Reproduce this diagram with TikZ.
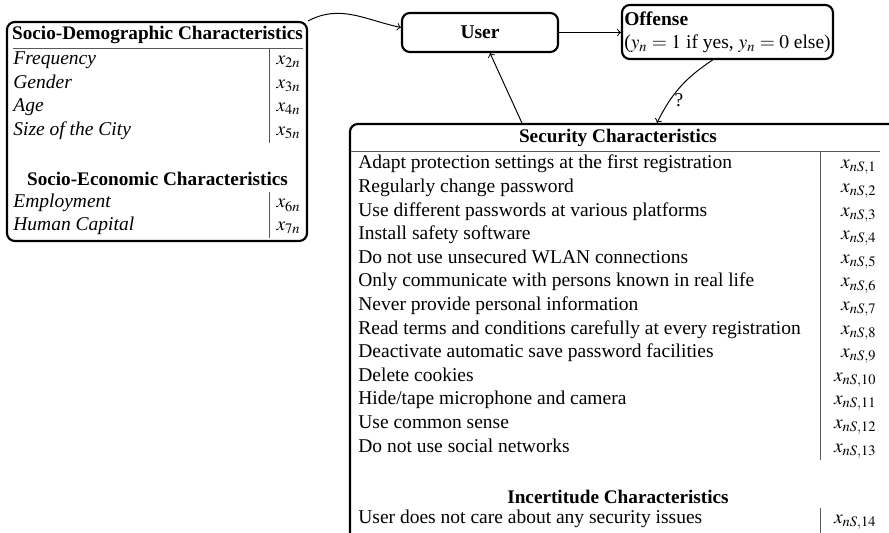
\documentclass[tikz,border=0pt]{standalone}
\usepackage{mathptmx}
\usepackage{fontspec}
\setmainfont{Liberation Serif}
\usetikzlibrary{calc,fit}
\tikzset{
  box/.style={draw, line width=1.1pt, rounded corners=4pt, inner sep=0pt},
  rowtxt/.style={anchor=west, inner sep=0pt, text height=1.55ex, text depth=.45ex},
  vartxt/.style={anchor=east, inner sep=0pt, text height=1.55ex, text depth=.45ex},
  ttl/.style={inner sep=0pt, font=\fontsize{9.85pt}{12pt}\selectfont\bfseries},
  sepline/.style={draw=black!65, line width=0.5pt},
  conn/.style={->, line width=0.5pt}
}
\begin{document}
\begin{tikzpicture}[x=0.5128pt,y=-0.5128pt]
\useasboundingbox (0,0) rectangle (889,533);
\clip (0,0) rectangle (889,533);

% Left box
\node[box, fit={(7,22) (307,241)}] (sd) {};
\node[ttl] (sdt) at (157.5,35) {Socio-Demographic Characteristics};
\draw[sepline] (13,48) -- (303,48);
\draw[sepline] (269,48) -- (269,143);
\node[rowtxt] (f1) at (13,60) {\textit{Frequency}};
\node[rowtxt] (f2) at (13,83.5) {\textit{Gender}};
\node[rowtxt] (f3) at (13,107) {\textit{Age}};
\node[rowtxt] (f4) at (13,130.5) {\textit{Size of the City}};
\node[vartxt] (x2) at (301,60) {$x_{2n}$};
\node[vartxt] (x3) at (301,83.5) {$x_{3n}$};
\node[vartxt] (x4) at (301,107) {$x_{4n}$};
\node[vartxt] (x5) at (301,130.5) {$x_{5n}$};
\node[ttl] (set) at (157.5,179) {Socio-Economic Characteristics};
\draw[sepline] (269,192) -- (269,238);
\node[rowtxt] (f6) at (13,203) {\textit{Employment}};
\node[rowtxt] (f7) at (13,226) {\textit{Human Capital}};
\node[vartxt] (x6) at (301,203) {$x_{6n}$};
\node[vartxt] (x7) at (301,226) {$x_{7n}$};

% User and Offense
\node[box, minimum width=80pt, minimum height=20pt] (user) at (480,32.5) {\textbf{User}};
\node[box, minimum width=108.2pt, minimum height=27.7pt, align=left] (off) at (727.5,32)
  {\textbf{Offense}\\($y_n=1$ if yes, $y_n=0$ else)};

% Security box
\node[box, fit={(350,124) (905,548)}] (sec) {};
\node[ttl] (sect) at (618,138) {Security Characteristics};
\draw[sepline] (351,151) -- (880,151);
\draw[sepline] (820,151) -- (820,460);
\foreach \t [count=\i] in {Adapt protection settings at the first registration,
  Regularly change password,
  Use different passwords at various platforms,
  Install safety software,
  Do not use unsecured WLAN connections,
  Only communicate with persons known in real life,
  Never provide personal information,
  Read terms and conditions carefully at every registration,
  Deactivate automatic save password facilities,
  Delete cookies,
  Hide/tape microphone and camera,
  Use common sense,
  Do not use social networks} {
  \node[rowtxt] (r\i) at (358,{164+23.6*(\i-1)}) {\t};
  \node[vartxt] (v\i) at (877,{164+23.6*(\i-1)}) {$x_{nS,\i}$};
}
\node[ttl] (inct) at (618,497) {Incertitude Characteristics};
\draw[sepline] (820,508) -- (820,533);
\node[rowtxt] (r14) at (358,519) {User does not care about any security issues};
\node[vartxt] (v14) at (877,519) {$x_{nS,14}$};

% Connectors
\draw[conn] (sd.north east) to[out=28,in=168] ($(user.west)+(0,-5)$);
\draw[conn] (user.east) -- (user.east -| off.west);
\draw[conn] ($(sec.north west)+(173,0)$) -- ($(user.south)+(10,0)$);
\draw[conn] ($(off.south)+(-15,0)$) to[bend right=15]
  node[pos=0.7, right=2pt, inner sep=0pt] (qm) {?} ($(sec.north west)+(308,0)$);
\end{tikzpicture}
\end{document}
